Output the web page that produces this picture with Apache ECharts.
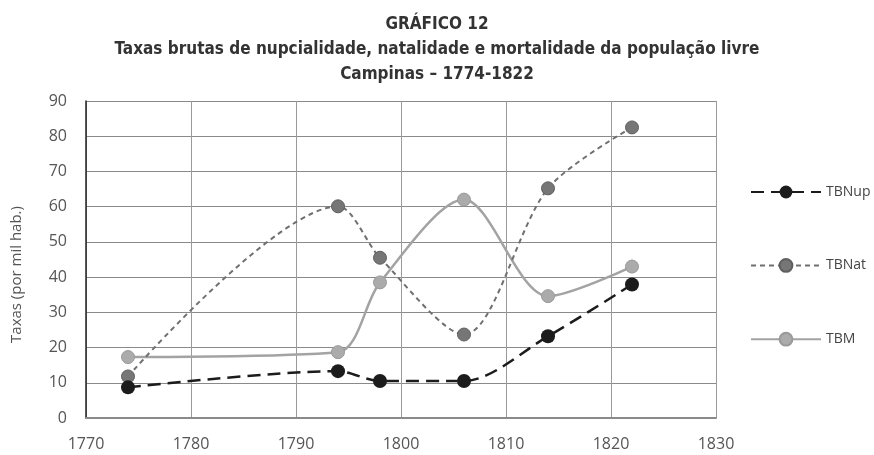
<!DOCTYPE html>
<html>
<head>
<meta charset="utf-8">
<script src="https://cdn.jsdelivr.net/npm/echarts@6/dist/echarts.min.js"></script>
<style>
  html, body { margin: 0; padding: 0; background: #fff; }
  #chart { width: 874px; height: 455px; }
</style>
</head>
<body>
<div id="chart"></div>
<script>
// anos das observações
var years = [1774, 1794, 1798, 1806, 1814, 1822];
var tbnup = [8.7, 13.3, 10.5, 10.5, 23.2, 37.9];
var tbnat = [11.8, 60.1, 45.5, 23.7, 65.2, 82.5];
var tbm = [17.3, 18.7, 38.5, 62.0, 34.6, 43.0];

function pairs(vals) {
  return years.map(function (y, i) { return [y, vals[i]]; });
}

var labelFont = { color: '#555', fontSize: 16, fontFamily: 'Open Sans' };

var option = {
  backgroundColor: '#fff',
  animation: false,
  title: {
    text: 'GRÁFICO 12\nTaxas brutas de nupcialidade, natalidade e mortalidade da população livre\nCampinas – 1774-1822',
    left: 'center',
    top: 7,
    textStyle: {
      fontFamily: 'DejaVu Sans Condensed',
      fontWeight: 'bold',
      fontSize: 17,
      lineHeight: 25,
      color: '#333'
    }
  },
  grid: { left: 86, right: 158, top: 101, bottom: 37 },
  legend: {
    orient: 'vertical',
    left: 745,
    top: 180,
    itemWidth: 70,
    itemHeight: 16,
    itemGap: 59,
    textStyle: { color: '#444', fontSize: 14, fontFamily: 'Open Sans' },
    data: ['TBNup', 'TBNat', 'TBM']
  },
  xAxis: {
    type: 'value',
    min: 1770,
    max: 1830,
    interval: 10,
    axisLine: { show: true, lineStyle: { color: '#8a8a8a', width: 2 } },
    axisTick: { show: false },
    axisLabel: Object.assign({ margin: 18, formatter: function (v) { return String(v); } }, labelFont),
    splitLine: { show: true, lineStyle: { color: '#9a9a9a', width: 1 } }
  },
  yAxis: {
    type: 'value',
    min: 0,
    max: 90,
    interval: 10,
    name: 'Taxas (por mil hab.)',
    nameLocation: 'middle',
    nameGap: 62,
    nameTextStyle: { color: '#555', fontSize: 15, fontFamily: 'Open Sans', padding: [0, 30, 0, 0] },
    axisLine: { show: true, lineStyle: { color: '#222', width: 1.5 } },
    axisTick: { show: false },
    axisLabel: Object.assign({ margin: 19 }, labelFont),
    splitLine: { show: true, lineStyle: { color: '#8a8a8a', width: 1 } }
  },
  series: [
    {
      name: 'TBNup',
      type: 'line',
      smooth: 0.3,
      data: pairs(tbnup),
      symbol: 'circle',
      symbolSize: 14,
      itemStyle: { color: '#1c1c1c' },
      lineStyle: { color: '#1c1c1c', width: 2.5, type: [13, 7] },
      z: 4
    },
    {
      name: 'TBNat',
      type: 'line',
      smooth: 0.3,
      data: pairs(tbnat),
      symbol: 'circle',
      symbolSize: 13,
      itemStyle: { color: '#767676', borderColor: '#5f5f5f', borderWidth: 1 },
      lineStyle: { color: '#707070', width: 2, type: [5, 4] },
      z: 3
    },
    {
      name: 'TBM',
      type: 'line',
      smooth: 0.3,
      data: pairs(tbm),
      symbol: 'circle',
      symbolSize: 13,
      itemStyle: { color: '#ababab', borderColor: '#9a9a9a', borderWidth: 1 },
      lineStyle: { color: '#a3a3a3', width: 2.5 },
      z: 2
    }
  ]
};

var chart = echarts.init(document.getElementById('chart'), null, { renderer: 'canvas' });
chart.setOption(option);
</script>
</body>
</html>
